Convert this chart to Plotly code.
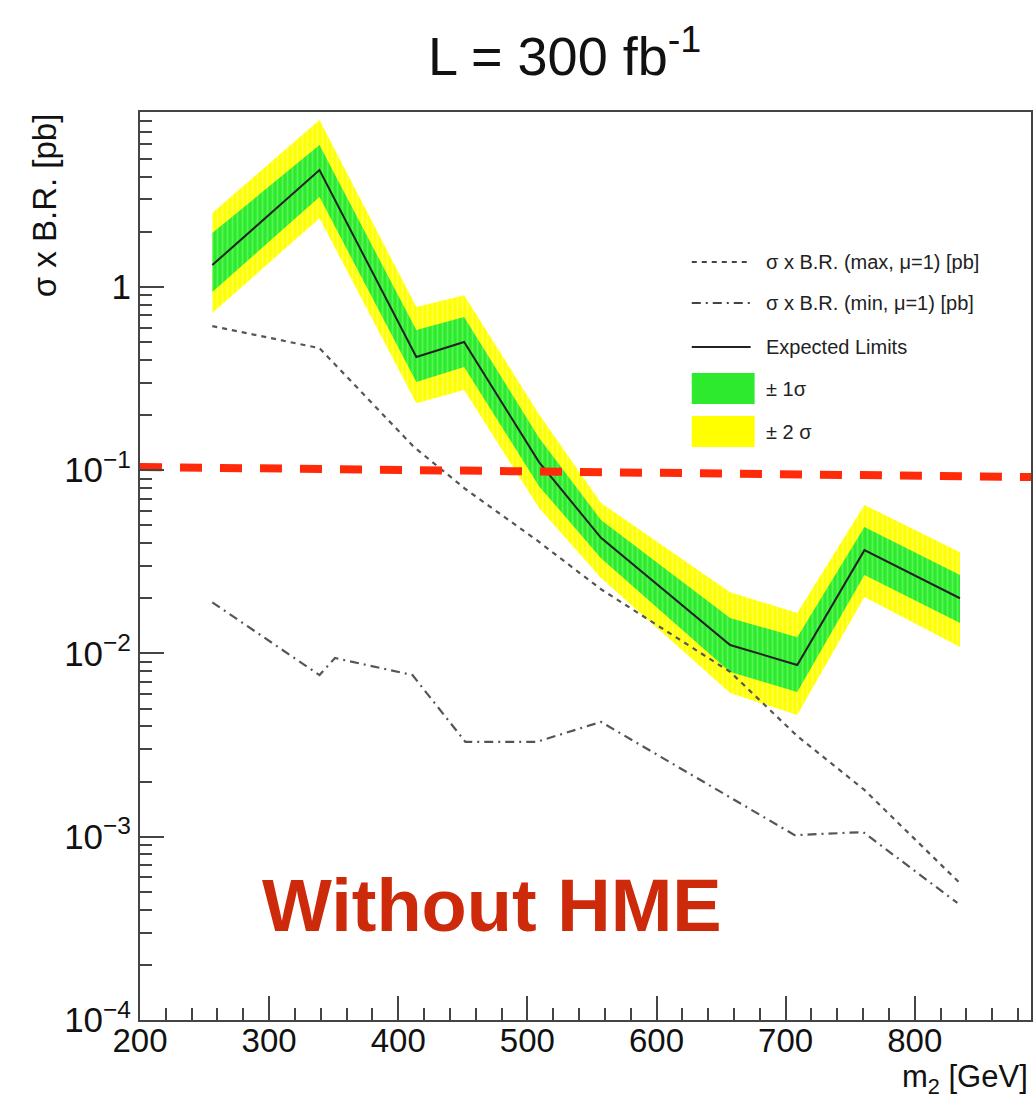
import plotly.graph_objects as go

# ---------------- data ----------------
mass_exp = [256, 339, 414, 451, 509, 557, 657, 709, 761, 835]
exp_med  = [1.315, 4.34, 0.414, 0.500, 0.1107, 0.0427, 0.01112, 0.00865, 0.0366, 0.0200]
exp_p1   = [1.966, 5.94, 0.581, 0.684, 0.150, 0.0535, 0.0156, 0.01227, 0.0490, 0.0268]
exp_p2   = [2.53, 8.13, 0.776, 0.901, 0.202, 0.0662, 0.0216, 0.0166, 0.0646, 0.0357]
exp_m1   = [0.938, 3.09, 0.303, 0.365, 0.0818, 0.0331, 0.00793, 0.00615, 0.0268, 0.01466]
exp_m2   = [0.719, 2.37, 0.232, 0.274, 0.0621, 0.0258, 0.00608, 0.00461, 0.0203, 0.01084]

mass_max = [256, 339, 412, 452, 507, 557, 657, 709, 761, 834]
xs_max   = [0.611, 0.463, 0.134, 0.0789, 0.0416, 0.0224, 0.00793, 0.00354, 0.0018, 0.000566]

mass_min = [256, 339, 351, 411, 452, 507, 557, 657, 707, 760, 833]
xs_min   = [0.0190, 0.00762, 0.00944, 0.00762, 0.00329, 0.00329, 0.00423, 0.00165, 0.00102, 0.00106, 0.000435]

ref_x = [200, 890]
ref_y = [0.104, 0.0917]

x_ticks = [200, 300, 400, 500, 600, 700, 800]
y_ticks = [1e-4, 1e-3, 1e-2, 1e-1, 1]
y_ticktext = ["10<sup>\u22124</sup>", "10<sup>\u22123</sup>", "10<sup>\u22122</sup>",
              "10<sup>\u22121</sup>", "1"]

legend_labels = ["\u03c3 x B.R. (max, \u03bc=1) [pb]", "\u03c3 x B.R. (min, \u03bc=1) [pb]",
                 "Expected Limits", "\u00b1 1\u03c3", "\u00b1 2 \u03c3"]

# ---------------- style ----------------
FONT = "Liberation Sans, Arial, Helvetica, sans-serif"
W, H = 1036, 1102
L, R, T, B = 140, 1033, 112, 1020  # plot area in pixels

def px(x):
    return (x - L) / (R - L)

def py(y):
    return (B - y) / (B - T)

GREEN_BG, GREEN_FG = "#2eea2e", "#7cff7c"
YEL_BG, YEL_FG = "#ffff00", "#ffff99"

fig = go.Figure()

# +-2 sigma band
fig.add_trace(go.Scatter(
    x=mass_exp + mass_exp[::-1], y=exp_p2 + exp_m2[::-1],
    fill="toself", mode="none", fillcolor=YEL_BG,
    fillpattern=dict(shape="|", bgcolor=YEL_BG, fgcolor=YEL_FG, size=5, solidity=0.35),
    hoverinfo="skip", showlegend=False))
# +-1 sigma band
fig.add_trace(go.Scatter(
    x=mass_exp + mass_exp[::-1], y=exp_p1 + exp_m1[::-1],
    fill="toself", mode="none", fillcolor=GREEN_BG,
    fillpattern=dict(shape="|", bgcolor=GREEN_BG, fgcolor=GREEN_FG, size=5, solidity=0.35),
    hoverinfo="skip", showlegend=False))

# theory curves
fig.add_trace(go.Scatter(x=mass_max, y=xs_max, mode="lines",
                         line=dict(color="#555555", width=2.2, dash="5px,5px"),
                         hoverinfo="skip", showlegend=False))
fig.add_trace(go.Scatter(x=mass_min, y=xs_min, mode="lines",
                         line=dict(color="#555555", width=2.2, dash="9px,5px,2px,5px"),
                         hoverinfo="skip", showlegend=False))

# expected limit
fig.add_trace(go.Scatter(x=mass_exp, y=exp_med, mode="lines",
                         line=dict(color="#222222", width=2),
                         hoverinfo="skip", showlegend=False))

# red reference line
fig.add_trace(go.Scatter(x=ref_x, y=ref_y, mode="lines",
                         line=dict(color="#ff2a0a", width=8, dash="22px,18px"),
                         hoverinfo="skip", showlegend=False, cliponaxis=False))

# minor tick positions on log axis
minor_y = []
for d in range(-4, 1):
    for k in range(2, 10):
        v = k * 10 ** d
        if v < 8.9:
            minor_y.append(v)

fig.update_xaxes(range=[200, 890], tickvals=x_ticks, ticks="inside", ticklen=24,
                 tickwidth=1.5, tickcolor="#444", showline=True, linecolor="#444",
                 linewidth=2, mirror=True, showgrid=False, zeroline=False,
                 ticklabelstandoff=-10,
                 tickfont=dict(family=FONT, size=33, color="#111"),
                 minor=dict(dtick=20, ticks="inside", ticklen=12, tickcolor="#444",
                            tickwidth=1.5, showgrid=False))
fig.update_yaxes(type="log", range=[-4, 0.954], tickvals=y_ticks, ticktext=y_ticktext,
                 ticks="inside", ticklen=24, tickwidth=1.5, tickcolor="#444",
                 showline=True, linecolor="#444", linewidth=2, mirror=True,
                 showgrid=False, zeroline=False,
                 tickfont=dict(family=FONT, size=35, color="#111"),
                 minor=dict(tickvals=minor_y, ticks="inside", ticklen=12,
                            tickcolor="#444", tickwidth=1.5, showgrid=False))

ann = []
# title
ann.append(dict(text="L = 300 fb<sup>-1</sup>", x=px(565), y=py(52), xref="paper", yref="paper",
                showarrow=False, xanchor="center", yanchor="middle",
                font=dict(family=FONT, size=54, color="#111")))
# axis titles
ann.append(dict(text="\u03c3 x B.R. [pb]", x=px(45), y=py(205), xref="paper", yref="paper",
                showarrow=False, textangle=-90, xanchor="center", yanchor="middle",
                font=dict(family=FONT, size=33, color="#111")))
ann.append(dict(text="m<sub>2</sub> [GeV]", x=px(1032), y=py(1101), xref="paper", yref="paper",
                showarrow=False, xanchor="right", yanchor="bottom",
                font=dict(family=FONT, size=31, color="#111")))
# big label
ann.append(dict(text="<b>Without HME</b>", x=px(260), y=py(905), xref="paper", yref="paper",
                showarrow=False, xanchor="left", yanchor="middle",
                font=dict(family=FONT, size=74, color="#cc2a0a")))

# manual legend
rows = [262, 303, 347, 389, 432]
shapes = []
shapes.append(dict(type="line", xref="paper", yref="paper", x0=px(693), x1=px(752),
                   y0=py(rows[0]), y1=py(rows[0]), line=dict(color="#444", width=2, dash="5px,5px")))
shapes.append(dict(type="line", xref="paper", yref="paper", x0=px(693), x1=px(752),
                   y0=py(rows[1]), y1=py(rows[1]), line=dict(color="#444", width=2, dash="9px,5px,2px,5px")))
shapes.append(dict(type="line", xref="paper", yref="paper", x0=px(693), x1=px(752),
                   y0=py(rows[2]), y1=py(rows[2]), line=dict(color="#222", width=2)))
shapes.append(dict(type="rect", xref="paper", yref="paper", x0=px(693), x1=px(756),
                   y0=py(404), y1=py(373), fillcolor=GREEN_BG, line=dict(width=0)))
shapes.append(dict(type="rect", xref="paper", yref="paper", x0=px(693), x1=px(756),
                   y0=py(447), y1=py(416), fillcolor=YEL_BG, line=dict(width=0)))
for lab, r in zip(legend_labels, rows):
    ann.append(dict(text=lab, x=px(765), y=py(r), xref="paper", yref="paper",
                    showarrow=False, xanchor="left", yanchor="middle",
                    font=dict(family=FONT, size=20, color="#222")))

fig.update_layout(width=W, height=H, margin=dict(l=L, r=W - R, t=T, b=H - B),
                  paper_bgcolor="white", plot_bgcolor="white",
                  annotations=ann, shapes=shapes, hovermode=False,
                  font=dict(family=FONT))

fig.write_html("out.html")
